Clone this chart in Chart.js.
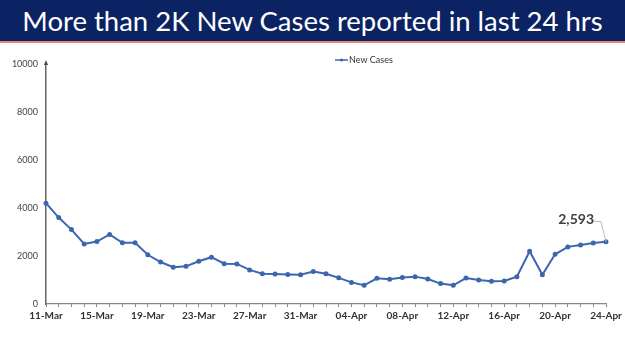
<!DOCTYPE html>
<html>
<head>
<meta charset="utf-8">
<script src="https://cdn.jsdelivr.net/npm/chart.js@4.4.1/dist/chart.umd.min.js"></script>
<style>
  body { margin: 0; background: #fff; width: 625px; height: 351px; overflow: hidden; }
  #banner {
    height: 41px; background: #0b2363; color: #fff;
    border-bottom: 2px solid #e08a70;
    font-family: Lato, sans-serif; font-size: 27.5px; line-height: 41px;
    text-align: center; white-space: nowrap;
  }
  #chart { display: block; }
</style>
</head>
<body>
<div id="banner">More than 2K New Cases reported in last 24 hrs</div>
<canvas id="chart" width="625" height="308"></canvas>
<script>
// Datas (11-Mar a 24-Apr)
const datas = [
  "11-Mar","12-Mar","13-Mar","14-Mar","15-Mar","16-Mar","17-Mar","18-Mar","19-Mar","20-Mar",
  "21-Mar","22-Mar","23-Mar","24-Mar","25-Mar","26-Mar","27-Mar","28-Mar","29-Mar","30-Mar","31-Mar",
  "01-Apr","02-Apr","03-Apr","04-Apr","05-Apr","06-Apr","07-Apr","08-Apr","09-Apr","10-Apr",
  "11-Apr","12-Apr","13-Apr","14-Apr","15-Apr","16-Apr","17-Apr","18-Apr","19-Apr","20-Apr",
  "21-Apr","22-Apr","23-Apr","24-Apr"
];

// Novos casos por dia
const novosCasos = [
  4200,3600,3100,2500,2600,2900,2550,2550,2050,1750,
  1530,1570,1780,1950,1680,1670,1420,1260,1250,1230,1220,
  1350,1260,1090,900,780,1070,1030,1100,1140,1040,
  850,780,1080,1000,950,960,1140,2200,1220,2070,
  2380,2460,2540,2593
];

// Marcas do eixo Y
const yTicks = [0, 2000, 4000, 6000, 8000, 10000];

const corLinha = "#3d66b0";

// Legenda, seta do eixo e rótulo do último ponto
const extras = {
  id: "extras",
  afterDraw(chart) {
    const { ctx, chartArea } = chart;
    ctx.save();

    // seta no topo do eixo Y
    ctx.fillStyle = "#444";
    ctx.beginPath();
    ctx.moveTo(chartArea.left, chartArea.top - 4);
    ctx.lineTo(chartArea.left - 2, chartArea.top + 1);
    ctx.lineTo(chartArea.left + 2, chartArea.top + 1);
    ctx.closePath();
    ctx.fill();

    // legenda
    const lx = 335, ly = 17;
    ctx.strokeStyle = corLinha;
    ctx.lineWidth = 1.5;
    ctx.beginPath();
    ctx.moveTo(lx, ly); ctx.lineTo(lx + 13, ly);
    ctx.stroke();
    ctx.fillStyle = corLinha;
    ctx.beginPath(); ctx.arc(lx + 6.5, ly, 1.6, 0, Math.PI * 2); ctx.fill();
    ctx.fillStyle = "#333";
    ctx.font = "9px Lato, sans-serif";
    ctx.textBaseline = "middle";
    ctx.textAlign = "left";
    ctx.fillText(chart.data.datasets[0].label, lx + 14, ly);

    // rótulo do último valor
    const meta = chart.getDatasetMeta(0);
    const p = meta.data[meta.data.length - 1];
    const v = novosCasos[novosCasos.length - 1];
    ctx.strokeStyle = "#bbb";
    ctx.lineWidth = 1;
    ctx.beginPath();
    ctx.moveTo(p.x - 15, p.y - 21);
    ctx.lineTo(p.x - 5, p.y - 20);
    ctx.lineTo(p.x, p.y);
    ctx.stroke();
    ctx.fillStyle = "#404040";
    ctx.font = "bold 14px Lato, sans-serif";
    ctx.textAlign = "right";
    ctx.fillText(v.toLocaleString("en-US"), p.x - 12, p.y - 22);

    ctx.restore();
  }
};

const ctx = document.getElementById("chart").getContext("2d");
new Chart(ctx, {
  type: "line",
  data: {
    labels: datas,
    datasets: [{
      label: "New Cases",
      data: novosCasos,
      borderColor: corLinha,
      backgroundColor: corLinha,
      borderWidth: 2,
      pointRadius: 1.5,
      pointHoverRadius: 1.5,
      tension: 0
    }]
  },
  options: {
    responsive: false,
    animation: false,
    layout: { padding: { top: 21, right: 19, left: 4, bottom: 26 } },
    plugins: { legend: { display: false }, tooltip: { enabled: false } },
    scales: {
      x: {
        offset: false,
        grid: { display: true, drawOnChartArea: false, tickLength: 3, color: "#888" },
        border: { display: true, color: "#888", width: 1.2 },
        ticks: {
          autoSkip: false, maxRotation: 0, padding: 3,
          color: "#333", font: { family: "Lato", size: 10, weight: "bold" },
          callback: (val, i) => (i % 4 === 0 ? datas[i] : "")
        }
      },
      y: {
        min: 0, max: 10000,
        afterBuildTicks: (s) => { s.ticks = yTicks.map(v => ({ value: v })); },
        afterFit: (s) => { s.width = 42; },
        grid: { display: false },
        border: { display: true, color: "#666", width: 1.5 },
        ticks: {
          color: "#444", padding: 0, font: { family: "Lato", size: 9 },
          callback: (v) => String(v)
        }
      }
    }
  },
  plugins: [extras]
});
</script>
</body>
</html>
